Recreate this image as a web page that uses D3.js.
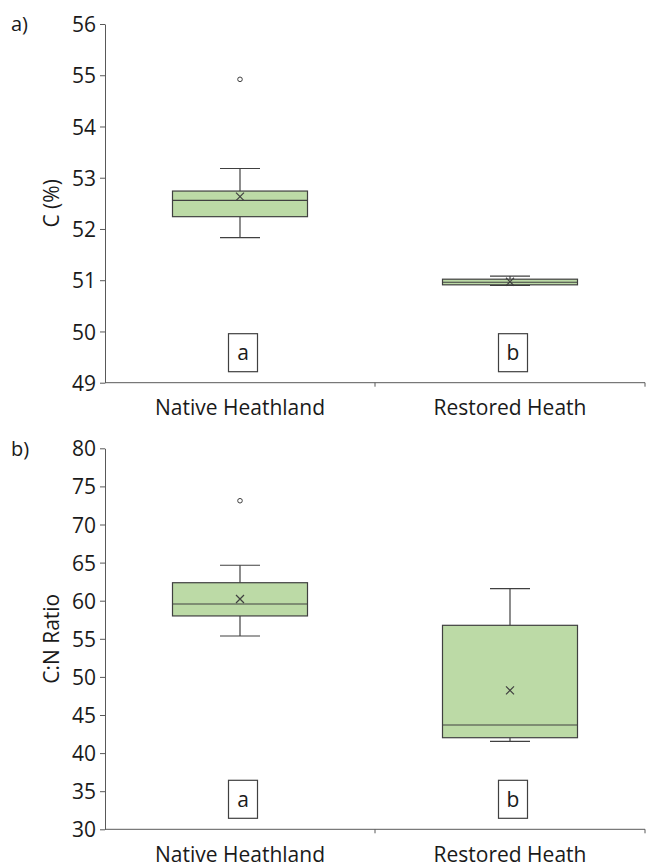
<!DOCTYPE html>
<meta charset="utf-8">
<style>
  body { margin: 0; background: #fff; }
  text { font-family: "Open Sans", "Noto Sans", sans-serif; fill: #1a1a1a; }
  .axis path, .axis line { stroke: #595959; }
  .box { fill: #bcdaa6; stroke: #404040; stroke-width: 1.2; }
  .wh { stroke: #404040; stroke-width: 1.2; fill: none; }
</style>
<svg width="646" height="862"></svg>
<script src="https://cdn.jsdelivr.net/npm/d3@7/dist/d3.min.js"></script>
<script>
// categories and group letters
var categories = ["Native Heathland", "Restored Heath"];
var letters = ["a", "b"];

// panel a: C (%)
var cMin = [51.83, 50.90];
var cQ1 = [52.24, 50.91];
var cMedian = [52.56, 50.96];
var cQ3 = [52.74, 51.02];
var cMax = [53.18, 51.08];
var cMean = [52.63, 50.97];
var cOutliers = [[54.92], []];
var cTicks = [49, 50, 51, 52, 53, 54, 55, 56];

// panel b: C:N ratio
var rMin = [55.37, 41.55];
var rQ1 = [58.0, 42.02];
var rMedian = [59.57, 43.69];
var rQ3 = [62.36, 56.77];
var rMax = [64.65, 61.58];
var rMean = [60.22, 48.24];
var rOutliers = [[73.12], []];
var rTicks = [30, 35, 40, 45, 50, 55, 60, 65, 70, 75, 80];

var svg = d3.select("svg");

function panel(opt) {
  var left = 105, right = 645;
  var x = d3.scaleBand().domain(categories).range([left, right]);
  var y = d3.scaleLinear().domain(opt.domain).range([opt.bottom, opt.top]);
  var g = svg.append("g");

  // y axis
  g.append("g").attr("class", "axis")
    .attr("transform", "translate(" + left + ",0)")
    .call(d3.axisLeft(y).tickValues(opt.ticks).tickFormat(d3.format("d"))
      .tickSize(5).tickPadding(4).tickSizeOuter(0))
    .call(function(s) {
      s.attr("font-size", null).attr("font-family", null);
      s.selectAll("text").attr("dy", "0.36em").style("font-size", "21px").style("fill", "#1a1a1a");
    });

  // x axis line + boundary ticks
  g.append("line").style("stroke", "#595959")
    .attr("x1", left).attr("x2", right).attr("y1", opt.bottom).attr("y2", opt.bottom);
  categories.forEach(function(c) {
    var bx = x(c) + x.bandwidth();
    g.append("line").style("stroke", "#595959")
      .attr("x1", bx).attr("x2", bx).attr("y1", opt.bottom).attr("y2", opt.bottom + 4);
  });
  g.selectAll(".cat").data(categories).enter().append("text")
    .attr("x", function(d) { return x(d) + x.bandwidth() / 2; })
    .attr("y", opt.bottom + 25).attr("dy", "0.36em")
    .attr("text-anchor", "middle").style("font-size", "21px")
    .text(function(d) { return d; });

  // y label
  g.append("text")
    .attr("transform", "translate(51," + ((opt.top + opt.bottom) / 2) + ") rotate(-90)")
    .attr("text-anchor", "middle").attr("dy", "0.36em")
    .style("font-size", "21px").text(opt.label);

  // panel letter
  g.append("text").attr("x", 11).attr("y", opt.top).attr("dy", "0.36em")
    .style("font-size", "20px").text(opt.tag);

  var bw = x.bandwidth() / 2, cap = 40;
  categories.forEach(function(c, i) {
    var cx = x(c) + x.bandwidth() / 2;
    // whiskers
    g.append("line").attr("class", "wh").attr("x1", cx).attr("x2", cx)
      .attr("y1", y(opt.max[i])).attr("y2", y(opt.q3[i]));
    g.append("line").attr("class", "wh").attr("x1", cx).attr("x2", cx)
      .attr("y1", y(opt.min[i])).attr("y2", y(opt.q1[i]));
    g.append("line").attr("class", "wh").attr("x1", cx - cap / 2).attr("x2", cx + cap / 2)
      .attr("y1", y(opt.max[i])).attr("y2", y(opt.max[i]));
    g.append("line").attr("class", "wh").attr("x1", cx - cap / 2).attr("x2", cx + cap / 2)
      .attr("y1", y(opt.min[i])).attr("y2", y(opt.min[i]));
    // box
    g.append("rect").attr("class", "box")
      .attr("x", cx - bw / 2).attr("width", bw)
      .attr("y", y(opt.q3[i])).attr("height", y(opt.q1[i]) - y(opt.q3[i]));
    g.append("line").attr("class", "wh").attr("x1", cx - bw / 2).attr("x2", cx + bw / 2)
      .attr("y1", y(opt.median[i])).attr("y2", y(opt.median[i]));
    // mean marker
    var m = y(opt.mean[i]), s = 4;
    g.append("path").attr("class", "wh")
      .attr("d", "M" + (cx - s) + "," + (m - s) + "L" + (cx + s) + "," + (m + s) +
                 "M" + (cx - s) + "," + (m + s) + "L" + (cx + s) + "," + (m - s));
    // outliers
    opt.outliers[i].forEach(function(v) {
      g.append("circle").attr("cx", cx).attr("cy", y(v)).attr("r", 2.3)
        .attr("fill", "#fff").attr("stroke", "#404040").attr("stroke-width", 1);
    });
    // significance letter box
    var lx = cx + 3, ly = opt.bottom - 30;
    g.append("rect").attr("x", lx - 14.5).attr("y", ly - 19).attr("width", 29).attr("height", 38)
      .attr("fill", "#fff").attr("stroke", "#404040").attr("stroke-width", 1.2);
    g.append("text").attr("x", lx).attr("y", ly).attr("dy", "0.36em")
      .attr("text-anchor", "middle").style("font-size", "21px").text(letters[i]);
  });
}

panel({ tag: "a)", label: "C (%)", domain: [49, 56], ticks: cTicks, top: 24, bottom: 382.7,
  min: cMin, q1: cQ1, median: cMedian, q3: cQ3, max: cMax, mean: cMean, outliers: cOutliers });
panel({ tag: "b)", label: "C:N Ratio", domain: [30, 80], ticks: rTicks, top: 448.3, bottom: 829.3,
  min: rMin, q1: rQ1, median: rMedian, q3: rQ3, max: rMax, mean: rMean, outliers: rOutliers });
</script>
